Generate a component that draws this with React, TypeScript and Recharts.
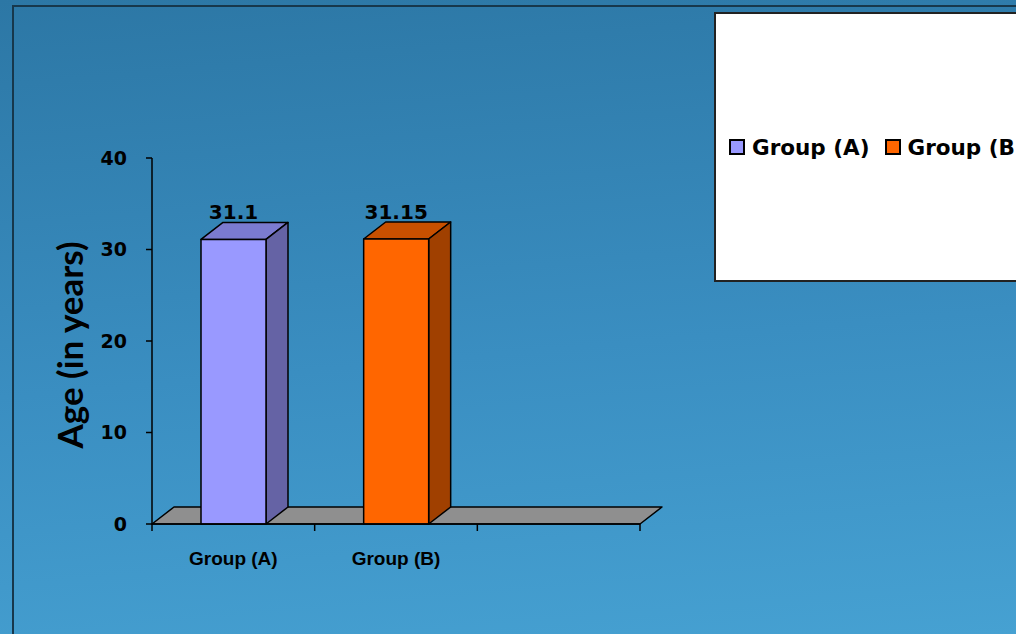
import React from 'react'
import { BarChart, Bar, XAxis, YAxis, LabelList, Legend, ReferenceArea } from 'recharts'

const categories = ['Group (A)', 'Group (B)', '']
const groupA = [31.1, null, null]
const groupB = [null, 31.15, null]
const seriesNames = ['Group (A)', 'Group (B)']
const yTicks = [0, 10, 20, 30, 40]

const data = categories.map((name, i) => ({ name, groupA: groupA[i], groupB: groupB[i] }))

// depth of the fake 3d effect
const DX = 22
const DY = 17
const WIDE = '"DejaVu Sans", sans-serif'

function Box3D(props: any) {
    const { x, y, width: w, height: h, fill, top, side } = props
    if (!h || h <= 0 || !w) return null
    return (
        <g stroke="#000" strokeWidth={1.5} strokeLinejoin="round">
            <polygon points={`${x},${y} ${x + DX},${y - DY} ${x + w + DX},${y - DY} ${x + w},${y}`} fill={top} />
            <polygon points={`${x + w},${y} ${x + w + DX},${y - DY} ${x + w + DX},${y + h - DY} ${x + w},${y + h}`} fill={side} />
            <rect x={x} y={y} width={w} height={h} fill={fill} />
        </g>
    )
}

function Floor(props: any) {
    const { x, y, width } = props
    return (
        <polygon
            points={`${x},${y} ${x + DX},${y - DY} ${x + width + DX},${y - DY} ${x + width},${y}`}
            fill="#8f8f8f" stroke="#000" strokeWidth={1.5} strokeLinejoin="round"
        />
    )
}

// category axis tick: tick marks sit between categories, label in the middle
function CatTick(props: any) {
    const { x, y, payload, index, visibleTicksCount } = props
    const half = payload?.offset || 0
    const top = y - 28
    const last = index === visibleTicksCount - 1
    return (
        <g>
            <line x1={x - half} x2={x - half} y1={top} y2={top + 7} stroke="#000" strokeWidth={1.5} />
            {last && <line x1={x + half} x2={x + half} y1={top} y2={top + 7} stroke="#000" strokeWidth={1.5} />}
            <text x={x} y={y} dy="0.71em" textAnchor="middle" fill="#000"
                fontFamily='"Liberation Sans", Arial, sans-serif' fontWeight="bold" fontSize={19}>
                {payload.value}
            </text>
        </g>
    )
}

function LegendBox(props: any) {
    const items = props.payload || []
    return (
        <div style={{ boxSizing: 'border-box', width: 400, height: 270, background: '#fff', border: '2px solid #222', display: 'flex', alignItems: 'center', paddingLeft: 13 }}>
            {items.map((it: any) => (
                <span key={it.value} style={{ display: 'inline-flex', alignItems: 'center', marginRight: 15, fontFamily: WIDE, fontWeight: 'bold', fontSize: 21.5, color: '#000', whiteSpace: 'nowrap' }}>
                    <span style={{ width: 12, height: 12, border: '2px solid #000', background: it.color, marginRight: 7 }} />
                    {it.value}
                </span>
            ))}
        </div>
    )
}

function AxisTitle(props: any) {
    const vb = props.viewBox || {}
    const cx = vb.x - 3
    const cy = vb.y + vb.height / 2 + 4
    return (
        <text x={cx} y={cy} transform={`rotate(-90 ${cx} ${cy})`} textAnchor="middle" dominantBaseline="central"
            fontFamily="Lato, sans-serif" fontWeight="bold" fontSize={35} fill="#000">
            {props.value}
        </text>
    )
}

export default function App() {
    return (
        <div style={{ position: 'fixed', left: 0, top: 0, width: 1016, height: 634, overflow: 'hidden', background: 'linear-gradient(175deg, #2c77a5 0%, #3a8ec1 55%, #46a1d2 100%)' }}>
            <div style={{ position: 'absolute', left: 12, top: 5, width: 1100, height: 700, borderLeft: '2px solid #17384c', borderTop: '2px solid #17384c' }} />
            <BarChart width={1016} height={634} data={data} margin={{ top: 158, right: 376, bottom: 80, left: 72 }}>
                <ReferenceArea y1={0} y2={0} shape={<Floor />} ifOverflow="visible" />
                <XAxis dataKey="name" height={30} tickSize={6} tickMargin={22} tickLine={false} stroke="#000" strokeWidth={1.5}
                    tick={<CatTick />} />
                <YAxis width={80} domain={[0, 40]} ticks={yTicks} tickSize={6} tickMargin={19} stroke="#000" strokeWidth={1.5}
                    tick={{ fill: '#000', fontFamily: WIDE, fontWeight: 'bold', fontSize: 19 }}
                    label={{ value: 'Age (in years)', content: AxisTitle }} />
                <Legend layout="horizontal" verticalAlign="middle" align="center" content={LegendBox}
                    wrapperStyle={{ left: 714, top: 12, width: 400, height: 270 }} />
                <Bar dataKey="groupA" name={seriesNames[0]} stackId="g" fill="#9999ff" barSize={65} isAnimationActive={false}
                    shape={(p: any) => <Box3D {...p} top="#7b7bd0" side="#6563a5" />}>
                    <LabelList dataKey="groupA" position="top" offset={20} fill="#000" fontFamily={WIDE} fontWeight="bold" fontSize={20} />
                </Bar>
                <Bar dataKey="groupB" name={seriesNames[1]} stackId="g" fill="#ff6600" barSize={65} isAnimationActive={false}
                    shape={(p: any) => <Box3D {...p} top="#c85000" side="#a04000" />}>
                    <LabelList dataKey="groupB" position="top" offset={20} fill="#000" fontFamily={WIDE} fontWeight="bold" fontSize={20} />
                </Bar>
            </BarChart>
        </div>
    )
}
